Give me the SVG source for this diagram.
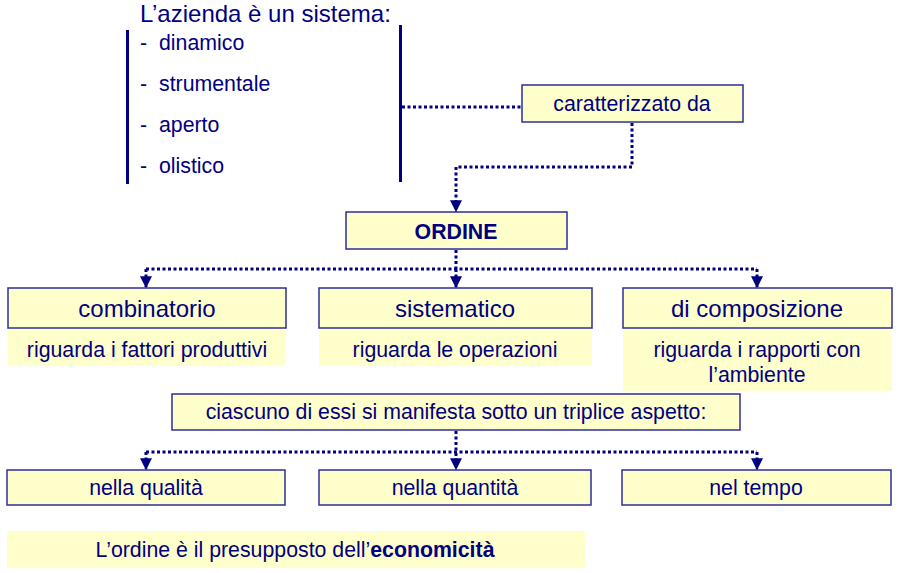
<svg xmlns="http://www.w3.org/2000/svg" width="898" height="573" viewBox="0 0 898 573">
<style>
text{font-family:"Liberation Sans",Arial,sans-serif;fill:#000080}
.box{fill:#FFFFCC;stroke:#2E2E9A;stroke-width:1.5}
.sub{fill:#FFFFCC;stroke:none}
.t18{font-size:21.3px}
.t22{font-size:24px}
.c{text-anchor:middle}
.conn{fill:none;stroke:#000080;stroke-width:3;stroke-dasharray:3 2.5}
.bar{stroke:#000080;stroke-width:3}
</style>
<defs>
<marker id="arr" viewBox="0 0 10 10" refX="9" refY="5" markerWidth="4" markerHeight="4" markerUnits="strokeWidth" orient="auto">
<path d="M0,0 L10,5 L0,10 z" fill="#000080"/>
</marker>
</defs>
<g id="sistema">
<text x="140" y="22" class="t22">L’azienda è un sistema:</text>
<line class="bar" x1="127.5" y1="30" x2="127.5" y2="184"/>
<line class="bar" x1="400.5" y1="25" x2="400.5" y2="182"/>
<text x="140" y="50" class="t18">-</text><text x="159" y="50" class="t18">dinamico</text>
<text x="140" y="91" class="t18">-</text><text x="159" y="91" class="t18">strumentale</text>
<text x="140" y="132" class="t18">-</text><text x="159" y="132" class="t18">aperto</text>
<text x="140" y="173" class="t18">-</text><text x="159" y="173" class="t18">olistico</text>
</g>
<g id="caratterizzato">
<rect class="box" x="522" y="85" width="221" height="37"/>
<text x="632" y="111" class="t18 c">caratterizzato da</text>
</g>
<g id="ordine">
<rect class="box" x="346" y="212" width="221" height="37"/>
<text x="456" y="239" class="t18 c" font-weight="bold">ORDINE</text>
</g>
<g id="combinatorio">
<rect class="box" x="8" y="288" width="278" height="40"/>
<text x="147" y="317" class="t22 c">combinatorio</text>
<rect class="sub" x="8" y="330" width="278" height="36"/>
<text x="147" y="357" class="t18 c">riguarda i fattori produttivi</text>
</g>
<g id="sistematico">
<rect class="box" x="319" y="288" width="273" height="40"/>
<text x="455" y="317" class="t22 c">sistematico</text>
<rect class="sub" x="319" y="330" width="273" height="36"/>
<text x="455" y="357" class="t18 c">riguarda le operazioni</text>
</g>
<g id="composizione">
<rect class="box" x="623" y="288" width="269" height="40"/>
<text x="757" y="317" class="t22 c">di composizione</text>
<rect class="sub" x="623" y="330" width="269" height="61"/>
<text x="757" y="357" class="t18 c">riguarda i rapporti con</text>
<text x="757" y="382" class="t18 c">l’ambiente</text>
</g>
<g id="ciascuno">
<rect class="box" x="172" y="394" width="568" height="36"/>
<text x="456" y="419" class="t18 c">ciascuno di essi si manifesta sotto un triplice aspetto:</text>
</g>
<g id="qualita">
<rect class="box" x="7" y="470" width="278" height="35"/>
<text x="146" y="495" class="t18 c">nella qualità</text>
</g>
<g id="quantita">
<rect class="box" x="319" y="470" width="272" height="35"/>
<text x="455" y="495" class="t18 c">nella quantità</text>
</g>
<g id="tempo">
<rect class="box" x="622" y="470" width="269" height="35"/>
<text x="756" y="495" class="t18 c">nel tempo</text>
</g>
<g id="economicita">
<rect class="sub" x="7" y="531" width="578" height="37"/>
<text x="295" y="557" class="t18 c">L’ordine è il presupposto dell’<tspan font-weight="bold">economicità</tspan></text>
</g>
<g id="connectors">
<path class="conn" d="M402,107 H521"/>
<path class="conn" d="M632,123 V167 H456 V211" marker-end="url(#arr)"/>
<path class="conn" d="M456,250 V269"/>
<path class="conn" d="M146,269 H757"/>
<path class="conn" d="M146,269 V287" marker-end="url(#arr)"/>
<path class="conn" d="M456,269 V287" marker-end="url(#arr)"/>
<path class="conn" d="M757,269 V287" marker-end="url(#arr)"/>
<path class="conn" d="M456,431 V469" marker-end="url(#arr)"/>
<path class="conn" d="M146,452 H757"/>
<path class="conn" d="M146,452 V469" marker-end="url(#arr)"/>
<path class="conn" d="M757,452 V469" marker-end="url(#arr)"/>
</g>
</svg>
